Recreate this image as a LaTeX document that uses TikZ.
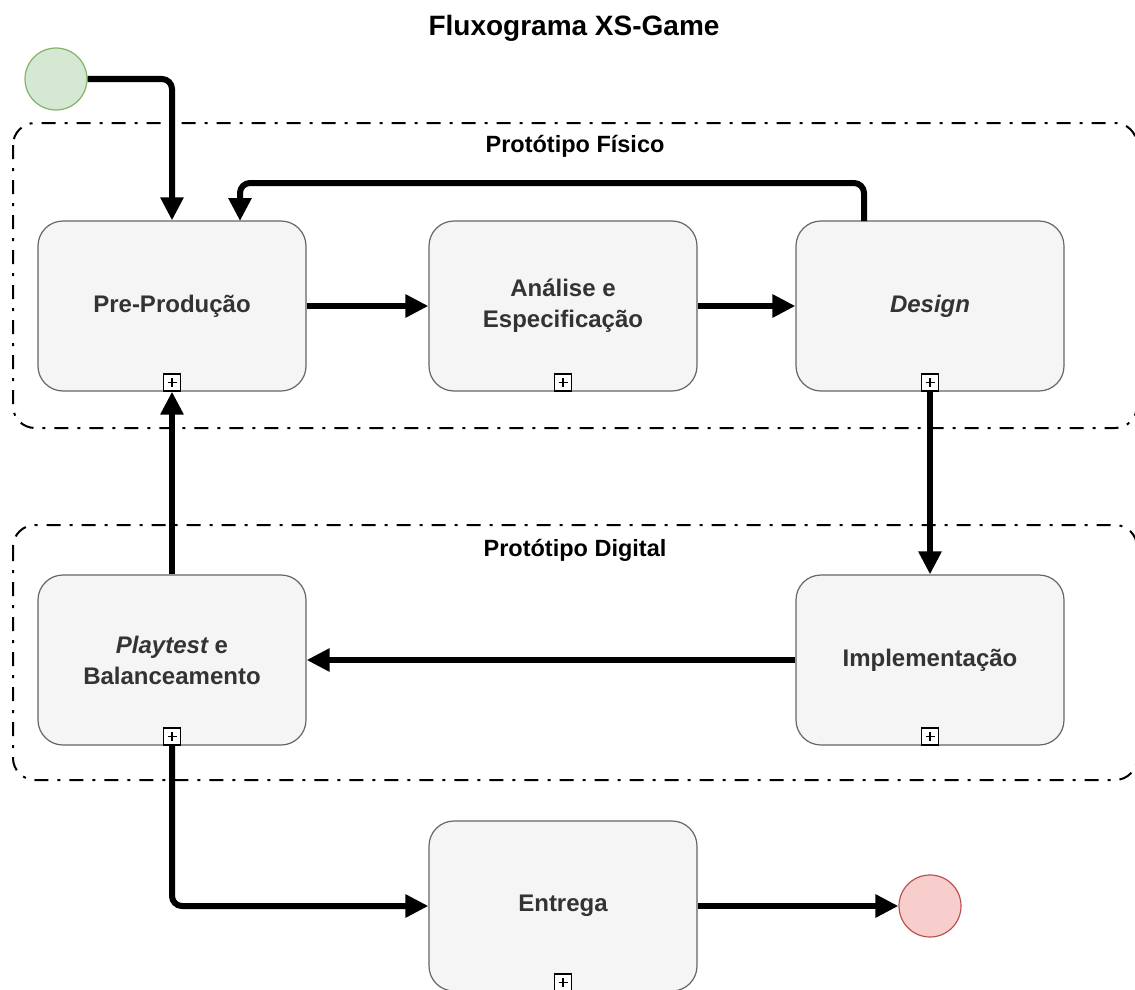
\documentclass[tikz,border=0pt]{standalone}
\usepackage{fontspec}
\setmainfont{Liberation Sans}
\usetikzlibrary{arrows.meta}
\definecolor{boxfill}{HTML}{F5F5F5}
\definecolor{boxline}{HTML}{666666}
\definecolor{boxtext}{HTML}{333333}
\definecolor{startfill}{HTML}{D5E8D4}
\definecolor{startline}{HTML}{82B366}
\definecolor{endfill}{HTML}{F8CECC}
\definecolor{endline}{HTML}{B85450}
\tikzset{
  task/.style={draw=boxline, line width=1.2pt, fill=boxfill, rounded corners=25pt,
    minimum width=268pt, minimum height=170pt, align=center, text=boxtext,
    font=\bfseries\fontsize{24}{31}\selectfont},
  subproc/.style={draw=black, line width=1.2pt, fill=white, minimum size=17pt,
    inner sep=0pt, anchor=south,
    path picture={
      \draw[line width=1.1pt] ([xshift=-4.5pt]path picture bounding box.center) -- ([xshift=4.5pt]path picture bounding box.center);
      \draw[line width=1.1pt] ([yshift=-4.5pt]path picture bounding box.center) -- ([yshift=4.5pt]path picture bounding box.center);
    }},
  event/.style={circle, minimum size=62pt, inner sep=0pt, line width=1.2pt},
  flow/.style={line width=6pt, -{Triangle[length=23pt,width=22pt]}, rounded corners=10pt},
  group/.style={draw=black, line width=2pt, rounded corners=22pt,
    dash pattern=on 14pt off 9pt on 3pt off 9pt},
  grouplabel/.style={font=\bfseries\fontsize{23.5}{28}\selectfont},
}
\begin{document}
\begin{tikzpicture}[x=1pt, y=-1pt]
\useasboundingbox (0,0) rectangle (1135,990);

% title
\node[font=\bfseries\fontsize{28}{33}\selectfont] (title) at (574,28) {Fluxograma XS-Game};

% lanes
\draw[group] (13,123) rectangle (1137,428);
\node[grouplabel] (lblfis) at (575,146) {Protótipo Físico};
\draw[group] (13,525) rectangle (1137,780);
\node[grouplabel] (lbldig) at (575,550) {Protótipo Digital};

% events
\node[event, draw=startline, fill=startfill] (start) at (56,79) {};
\node[event, draw=endline, fill=endfill] (end) at (930,906) {};

% tasks
\node[task] (pre) at (172,306) {Pre-Produção};
\node[task] (ana) at (563,306) {Análise e\\Especificação};
\node[task] (des) at (930,306) {\itshape Design};
\node[task] (play) at (172,660) {{\itshape Playtest} e\\Balanceamento};
\node[task] (impl) at (930,660) {Implementação};
\node[task] (ent) at (563,906) {Entrega};

% collapsed sub-process markers
\node[subproc] (mpre) at (pre.south) {};
\node[subproc] (mana) at (ana.south) {};
\node[subproc] (mdes) at (des.south) {};
\node[subproc] (mplay) at (play.south) {};
\node[subproc] (mimpl) at (impl.south) {};
\node[subproc] (ment) at (ent.south) {};

% helper points for the feedback loop
\coordinate (loopout) at (864,221);
\coordinate (loopcorner) at (240,183);
\coordinate (loopin) at (240,221);

% sequence flows
\draw[flow] (start.east) -| (pre.north);
\draw[flow] (pre) -- (ana);
\draw[flow] (ana) -- (des);
\draw[flow] (loopout) |- (loopcorner) -- (loopin);
\draw[flow] (mdes.south) -- (impl.north);
\draw[flow] (impl) -- (play);
\draw[flow] (play.north) -- (mpre.south);
\draw[flow] (mplay.south) |- (ent.west);
\draw[flow] (ent) -- (end);
\end{tikzpicture}
\end{document}
